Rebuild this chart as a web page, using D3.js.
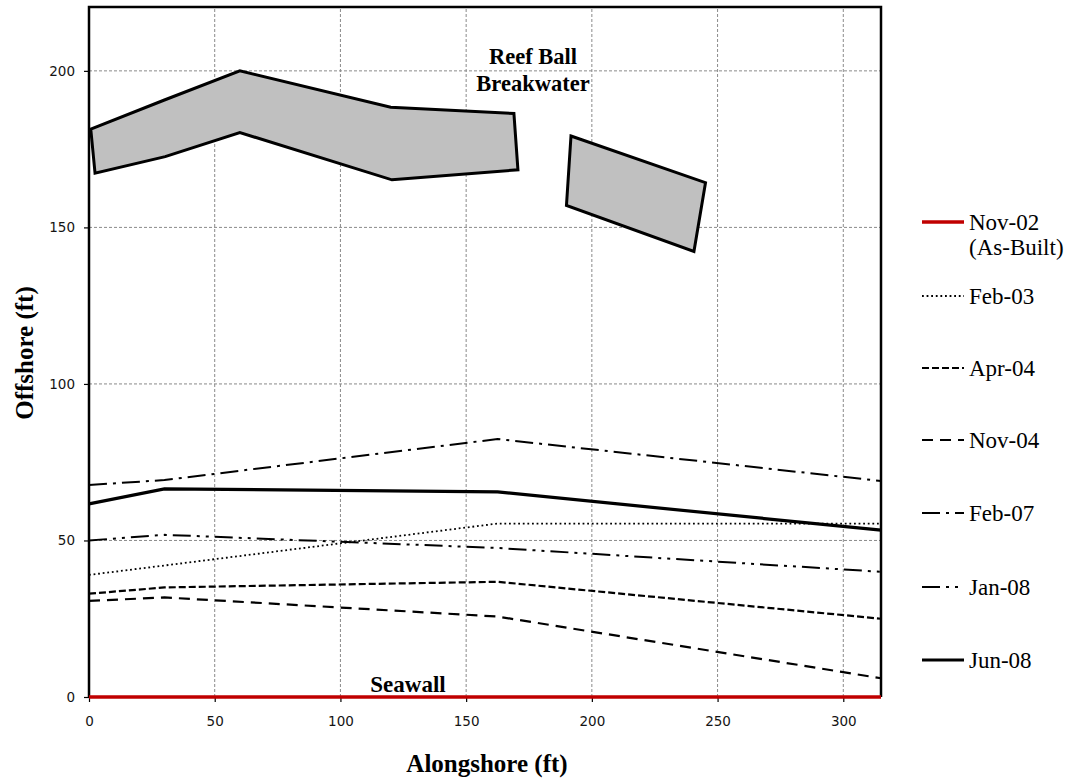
<!DOCTYPE html>
<html>
<head>
<meta charset="utf-8">
<script src="https://cdn.jsdelivr.net/npm/d3@7"></script>
<style>
  body { margin: 0; background: #fff; }
  svg { display: block; }
</style>
</head>
<body>
<div id="chart"></div>
<script>
const width = 1075;
const height = 779;
const margin = { top: 7, right: 194, bottom: 82, left: 89 };

// profile stations (alongshore, ft)
const stations = [0, 30, 162.5, 315];

// shoreline offshore positions (ft) per survey
const seriesNames = ["Nov-02", "Feb-03", "Apr-04", "Nov-04", "Feb-07", "Jan-08", "Jun-08"];
const nov02 = [0, 0, 0, 0];
const feb03 = [39, 42, 55.4, 55.4];
const apr04 = [33, 35, 36.8, 25];
const nov04 = [30.7, 31.8, 25.7, 6];
const feb07 = [67.7, 69.3, 82.4, 69];
const jan08 = [50, 51.8, 47.6, 40];
const jun08 = [61.7, 66.5, 65.5, 53.3];

// reef ball breakwater outlines [alongshore, offshore]
const breakwaterWest = [
  [0.7, 181.4], [30, 190.7], [60, 200], [120, 188.4], [169, 186.4],
  [170.6, 168.4], [120.5, 165.2], [60, 180.3], [30.3, 172.6], [2.4, 167.3]
];
const breakwaterEast = [[191.7, 179.2], [245.2, 164.3], [240.6, 142.3], [189.9, 157]];

const xTicks = [0, 50, 100, 150, 200, 250, 300];
const yTicks = [0, 50, 100, 150, 200];

const values = [nov02, feb03, apr04, nov04, feb07, jan08, jun08];

const styles = {
  "Nov-02": { color: "#c00000", width: 3.5, dash: null },
  "Feb-03": { color: "#000", width: 1.8, dash: "1.8,2.8" },
  "Apr-04": { color: "#000", width: 2.2, dash: "7,3" },
  "Nov-04": { color: "#000", width: 2.2, dash: "11,7" },
  "Feb-07": { color: "#000", width: 2, dash: "18,6,3,6" },
  "Jan-08": { color: "#000", width: 2, dash: "18,6,3,6,3,6" },
  "Jun-08": { color: "#000", width: 3.2, dash: null }
};

const svg = d3
  .select("#chart")
  .append("svg")
  .attr("width", width)
  .attr("height", height);

const x = d3
  .scaleLinear()
  .domain([0, 315])
  .range([margin.left, width - margin.right]);

const y = d3
  .scaleLinear()
  .domain([0, 220.4])
  .range([height - margin.bottom, margin.top]);

// grid
svg
  .append("g")
  .selectAll("line.vgrid")
  .data(xTicks.filter((d) => d > 0))
  .join("line")
  .attr("x1", (d) => x(d))
  .attr("x2", (d) => x(d))
  .attr("y1", y.range()[0])
  .attr("y2", y.range()[1])
  .attr("stroke", "#8a8a8a")
  .attr("stroke-width", 1)
  .attr("stroke-dasharray", "3,2");

svg
  .append("g")
  .selectAll("line.hgrid")
  .data(yTicks.filter((d) => d > 0))
  .join("line")
  .attr("x1", x.range()[0])
  .attr("x2", x.range()[1])
  .attr("y1", (d) => y(d))
  .attr("y2", (d) => y(d))
  .attr("stroke", "#8a8a8a")
  .attr("stroke-width", 1)
  .attr("stroke-dasharray", "3,2");

// axes
const yAxis = svg
  .append("g")
  .attr("transform", `translate(${margin.left},0)`)
  .call(d3.axisLeft(y).tickValues(yTicks).tickSize(5).tickPadding(9));
const xAxis = svg
  .append("g")
  .attr("transform", `translate(0,${height - margin.bottom})`)
  .call(d3.axisBottom(x).tickValues(xTicks).tickSize(5).tickPadding(14));

for (let ax of [xAxis, yAxis]) {
  ax.select(".domain").remove();
  ax.selectAll(".tick line").attr("stroke", "#000").attr("stroke-width", 1.2);
  ax.selectAll(".tick text")
    .attr("fill", "#141414")
    .style("font-family", "DejaVu Sans, Verdana, sans-serif")
    .style("font-size", "13.5px");
}

// breakwater
const poly = d3.line().x((d) => x(d[0])).y((d) => y(d[1])).curve(d3.curveLinearClosed);
for (let shape of [breakwaterWest, breakwaterEast]) {
  svg
    .append("path")
    .datum(shape)
    .attr("d", poly)
    .attr("fill", "#c0c0c0")
    .attr("stroke", "#000")
    .attr("stroke-width", 3)
    .attr("stroke-linejoin", "miter");
}

// frame (left, top, right)
svg
  .append("path")
  .attr("d", `M${x(0)},${y(0)}V${y.range()[1]}H${x(315)}V${y(0)}`)
  .attr("fill", "none")
  .attr("stroke", "#000")
  .attr("stroke-width", 2.5);

// shoreline lines
const line = d3
  .line()
  .x((d, i) => x(stations[i]))
  .y((d) => y(d));

seriesNames.forEach((name, i) => {
  if (name === "Nov-02") return;
  const s = styles[name];
  svg
    .append("path")
    .datum(values[i])
    .attr("fill", "none")
    .attr("stroke", s.color)
    .attr("stroke-width", s.width)
    .attr("stroke-dasharray", s.dash)
    .attr("d", line);
});

// as-built line (seawall) drawn on top
svg
  .append("path")
  .datum(nov02)
  .attr("fill", "none")
  .attr("stroke", styles["Nov-02"].color)
  .attr("stroke-width", styles["Nov-02"].width)
  .attr("d", line);

// annotations
const bold = (sel) =>
  sel
    .style("font-family", "Liberation Serif, Times New Roman, serif")
    .style("font-weight", "bold")
    .attr("fill", "#000");

svg.append("text").text("Reef Ball").attr("x", 533).attr("y", 64)
  .attr("text-anchor", "middle").style("font-size", "22.5px").call(bold);
svg.append("text").text("Breakwater").attr("x", 533).attr("y", 91)
  .attr("text-anchor", "middle").style("font-size", "22.5px").call(bold);
svg.append("text").text("Seawall").attr("x", 408).attr("y", 692)
  .attr("text-anchor", "middle").style("font-size", "23px").call(bold);

svg.append("text").text("Alongshore (ft)").attr("x", 487).attr("y", 772)
  .attr("text-anchor", "middle").style("font-size", "25px").call(bold);
svg.append("text").text("Offshore (ft)")
  .attr("transform", "translate(33,353) rotate(-90)")
  .attr("text-anchor", "middle").style("font-size", "25px").call(bold);

// legend
const legendY = [222, 296, 368, 440, 513, 587, 660];
const legend = svg.append("g");
const legendText = (g, txt, dy) =>
  g.append("text")
    .attr("x", 969)
    .attr("y", dy)
    .attr("fill", "#000")
    .style("font-family", "Liberation Serif, Times New Roman, serif")
    .style("font-size", "23px")
    .text(txt);

seriesNames.forEach((name, i) => {
  const s = styles[name];
  const g = legend.append("g").attr("transform", `translate(0,${legendY[i]})`);
  g.append("line")
    .attr("x1", 922)
    .attr("x2", 964)
    .attr("stroke", s.color)
    .attr("stroke-width", s.width)
    .attr("stroke-dasharray", s.dash);
  legendText(g, name, 8);
  if (name === "Nov-02") legendText(g, "(As-Built)", 33);
});
</script>
</body>
</html>
